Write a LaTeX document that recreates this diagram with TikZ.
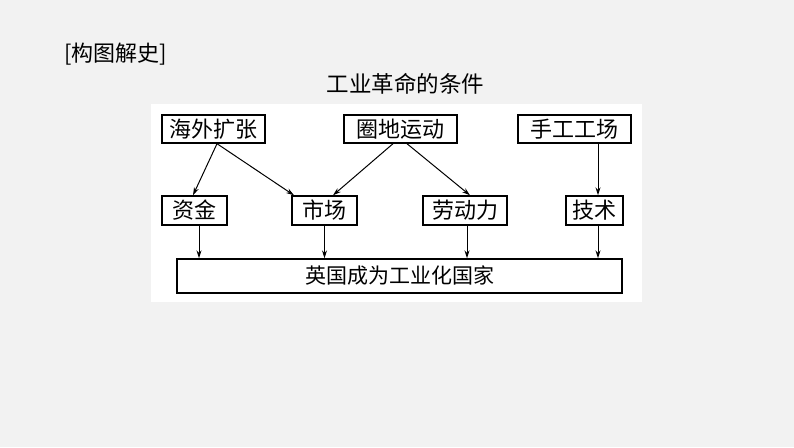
\documentclass[tikz,border=0pt]{standalone}
\usepackage{fontspec}
\setmainfont{Noto Sans CJK SC}
\usetikzlibrary{arrows.meta}
\tikzset{
  box/.style={draw,line width=1.4pt,inner sep=0pt,minimum height=28pt,
    font=\fontsize{22}{22}\selectfont},
  arr/.style={line width=1pt,-{Stealth[length=8pt,width=5pt]}}
}
\begin{document}
\begin{tikzpicture}[x=1pt,y=-1pt]
        \fill[gray!10] (0,0) rectangle (794,447);
        \useasboundingbox (0,0) rectangle (794,447);
        \fill[white] (151,104) rectangle (642,302);

        \node (lbl) at (115.5,54) {\fontsize{22}{22}\selectfont[构图解史]};
        \node (ttl) at (405.5,84) {\fontsize{22.5}{22.5}\selectfont 工业革命的条件};

        \node[box,minimum width=103pt] (hw) at (213.5,129) {海外扩张};
        \node[box,minimum width=113pt] (qd) at (400.5,129) {圈地运动};
        \node[box,minimum width=113pt] (sg) at (574.5,129) {手工工场};

        \node[box,minimum width=65pt,minimum height=29pt] (zj) at (194.5,210.5) {资金};
        \node[box,minimum width=65pt,minimum height=29pt] (sc) at (324.5,210.5) {市场};
        \node[box,minimum width=84pt,minimum height=29pt] (ld) at (465,210.5) {劳动力};
        \node[box,minimum width=57pt,minimum height=29pt] (js) at (594.5,210.5) {技术};

        \node[box,minimum width=445pt,minimum height=34pt,
          font=\fontsize{21}{21}\selectfont] (gj) at (399.5,276) {英国成为工业化国家};

        \draw[arr] ([xshift=3.5pt]hw.south) -- ([xshift=-1.5pt]zj.north);
        \draw[arr] ([xshift=3.5pt]hw.south) -- ([xshift=-30.5pt]sc.north);
        \draw[arr] ([xshift=-7.5pt]qd.south) -- ([xshift=8.5pt]sc.north);
        \draw[arr] ([xshift=6.5pt]qd.south) -- ([xshift=5pt]ld.north);
        \draw[arr] ([xshift=3.5pt]js.north |- sg.south) -- ([xshift=3.5pt]js.north);

        \draw[arr] ([xshift=4.5pt]zj.south) -- ([xshift=4.5pt]zj.south |- gj.north);
        \draw[arr] (sc.south) -- (sc.south |- gj.north);
        \draw[arr] ([xshift=2pt]ld.south) -- ([xshift=2pt]ld.south |- gj.north);
        \draw[arr] ([xshift=3.5pt]js.south) -- ([xshift=3.5pt]js.south |- gj.north);
\end{tikzpicture}
\end{document}
